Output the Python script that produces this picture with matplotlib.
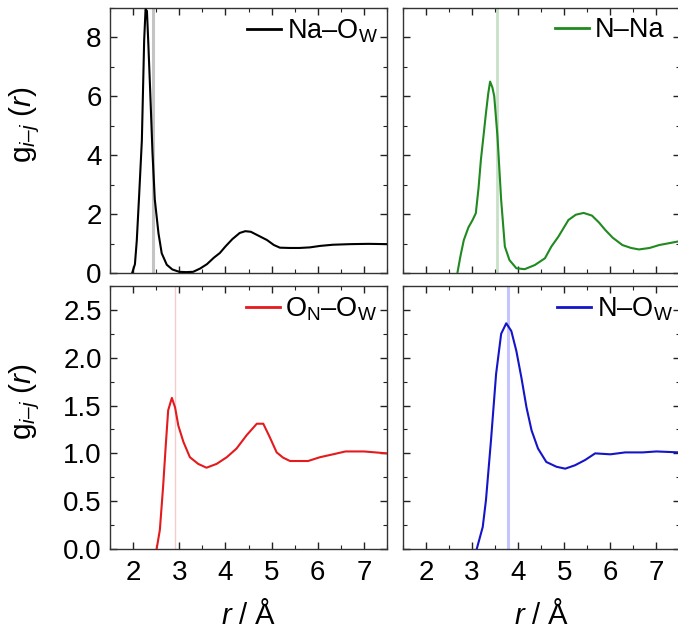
import matplotlib
matplotlib.use("Agg")
import matplotlib.pyplot as plt
from matplotlib.ticker import MultipleLocator, NullFormatter

plt.rcParams['font.family'] = ['Liberation Sans', 'DejaVu Sans']
plt.rcParams['mathtext.fontset'] = 'custom'
plt.rcParams['mathtext.rm'] = 'Liberation Sans'
plt.rcParams['mathtext.it'] = 'Liberation Sans:italic'
plt.rcParams['mathtext.bf'] = 'Liberation Sans:bold'

# ---- data ----
r_na_ow = [1.98, 2.04, 2.08, 2.13, 2.19, 2.24, 2.27, 2.30, 2.33, 2.37, 2.42, 2.47,
           2.55, 2.62, 2.73, 2.85, 3.0, 3.15, 3.3, 3.45, 3.6, 3.75, 3.88, 4.0, 4.15,
           4.31, 4.43, 4.55, 4.7, 4.9, 5.05, 5.18, 5.4, 5.6, 5.83, 6.05, 6.33, 6.7,
           7.1, 7.5]
g_na_ow = [0, 0.3, 1.1, 2.6, 4.5, 7.9, 8.95, 8.9, 7.8, 6.2, 4.1, 2.5,
           1.35, 0.67, 0.28, 0.12, 0.04, 0.03, 0.04, 0.15, 0.3, 0.52, 0.68, 0.9, 1.15,
           1.36, 1.42, 1.40, 1.28, 1.12, 0.95, 0.86, 0.85, 0.85, 0.87, 0.92, 0.96, 0.98,
           0.99, 0.98]

r_n_na = [2.68, 2.75, 2.82, 2.92, 3.01, 3.08, 3.14, 3.19, 3.25, 3.30, 3.35, 3.39,
          3.44, 3.48, 3.55, 3.63, 3.71, 3.81, 3.96, 4.14, 4.36, 4.58, 4.72, 4.87,
          5.09, 5.25, 5.42, 5.6, 5.75, 5.89, 6.05, 6.26, 6.45, 6.62, 6.85, 7.06,
          7.3, 7.5]
g_n_na = [0, 0.6, 1.12, 1.55, 1.8, 2.03, 2.9, 3.84, 4.7, 5.43, 6.1, 6.5,
          6.3, 6.0, 4.64, 2.48, 0.9, 0.44, 0.16, 0.13, 0.27, 0.5, 0.9, 1.23,
          1.8, 1.98, 2.04, 1.95, 1.72, 1.46, 1.2, 0.95, 0.85, 0.8, 0.85, 0.95,
          1.02, 1.08]

r_on_ow = [2.51, 2.58, 2.65, 2.71, 2.76, 2.84, 2.91, 2.98, 3.09, 3.23, 3.41,
           3.59, 3.81, 4.03, 4.24, 4.46, 4.68, 4.82, 4.96, 5.11, 5.25, 5.40, 5.79,
           6.05, 6.33, 6.6, 7.0, 7.5]
g_on_ow = [0, 0.2, 0.65, 1.1, 1.45, 1.58, 1.48, 1.29, 1.12, 0.96, 0.89,
           0.85, 0.89, 0.96, 1.05, 1.19, 1.31, 1.31, 1.17, 1.01, 0.955, 0.92, 0.92,
           0.96, 0.99, 1.02, 1.02, 1.0]

r_n_ow = [3.10, 3.23, 3.30, 3.41, 3.52, 3.63, 3.74, 3.85, 3.96, 4.07, 4.18,
          4.29, 4.43, 4.61, 4.83, 5.02, 5.23, 5.45, 5.67, 6.0, 6.32, 6.7, 7.0, 7.5]
g_n_ow = [0, 0.23, 0.51, 1.14, 1.83, 2.25, 2.36, 2.28, 2.07, 1.79, 1.48,
          1.24, 1.05, 0.91, 0.86, 0.84, 0.875, 0.93, 1.0, 0.99, 1.01, 1.01, 1.02, 1.01]

labels = ['Na–O$_\\mathrm{W}$', 'N–Na', 'O$_\\mathrm{N}$–O$_\\mathrm{W}$', 'N–O$_\\mathrm{W}$']
colors = ['#000000', '#1f8a1f', '#e41a1c', '#1414c8']
vlines = [2.43, 3.54, 2.91, 3.78]
vcolors = ['#c4c4c4', '#c8e0c8', '#f5cccc', '#c4c4ff']
vwidths = [2.2, 2.0, 1.0, 2.2]

ylabel = 'g$_{\\mathit{i–j}}$ ($\\mathit{r}$)'
xlabel = '$\\mathit{r}$ / Å'

W, H = 678, 635
fig = plt.figure(figsize=(W / 100, H / 100), dpi=100)

def pos(x0, x1, ytop, ybot):
    return [x0 / W, 1 - ybot / H, (x1 - x0) / W, (ybot - ytop) / H]

axes = [fig.add_axes(pos(110, 387, 8, 273)),
        fig.add_axes(pos(403, 679.5, 8, 273)),
        fig.add_axes(pos(110, 387, 286, 549)),
        fig.add_axes(pos(403, 679.5, 286, 549))]

data = [(r_na_ow, g_na_ow), (r_n_na, g_n_na), (r_on_ow, g_on_ow), (r_n_ow, g_n_ow)]
leg_x = [0.966, 0.945, 0.966, 0.975]

for i, ax in enumerate(axes):
    r, g = data[i]
    ax.axvline(vlines[i], color=vcolors[i], lw=vwidths[i], zorder=1)
    ax.plot(r, g, color=colors[i], lw=1.5, label=labels[i], zorder=3)
    ax.set_xlim(1.5, 7.5)
    ax.xaxis.set_major_locator(MultipleLocator(1))
    ax.xaxis.set_minor_locator(MultipleLocator(0.5))
    if i < 2:
        ax.set_ylim(0, 9)
        ax.yaxis.set_major_locator(MultipleLocator(2))
        ax.yaxis.set_minor_locator(MultipleLocator(1))
        ax.xaxis.set_major_formatter(NullFormatter())
    else:
        ax.set_ylim(0, 2.75)
        ax.yaxis.set_major_locator(MultipleLocator(0.5))
        ax.yaxis.set_minor_locator(MultipleLocator(0.25))
        ax.yaxis.set_major_formatter(plt.FuncFormatter(lambda v, p: f'{v:.1f}'))
        ax.set_xlabel(xlabel, fontsize=21)
        ax.xaxis.set_label_coords(0.5, -0.195)
    if i % 2 == 1:
        ax.yaxis.set_major_formatter(NullFormatter())
    else:
        ax.set_ylabel(ylabel, fontsize=21.5)
        ax.yaxis.set_label_coords(-0.245, 0.56)
    ax.tick_params(which='both', direction='in', top=True, right=True,
                   labelsize=20, color='#222222')
    ax.tick_params(which='major', length=5, width=1.0)
    ax.tick_params(which='minor', length=3, width=0.8)
    ax.tick_params(axis='x', pad=8)
    ax.tick_params(axis='y', pad=6)
    for s in ax.spines.values():
        s.set_color('#333333')
        s.set_linewidth(1.0)
    leg = ax.legend(loc='upper right', bbox_to_anchor=(leg_x[i], 0.965),
                    frameon=False, fontsize=19.5,
                    handlelength=1.25, handletextpad=0.2, borderaxespad=0.0,
                    borderpad=0.0)
    for line in leg.get_lines():
        line.set_linewidth(2.0)

fig.savefig('out.png', dpi=100)
